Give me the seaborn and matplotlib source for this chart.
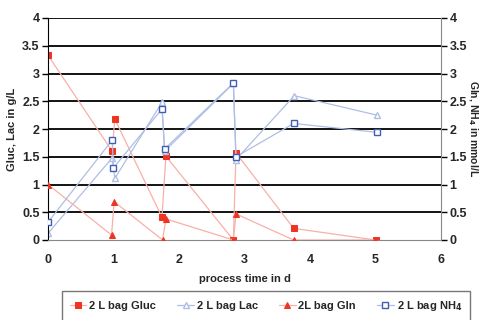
import numpy as np
import pandas as pd
import matplotlib.pyplot as plt
import seaborn as sns

# values
gluc_t = [0, 0.98, 1.02, 1.74, 1.80, 2.83, 2.87, 3.75, 5.0]
gluc = [3.33, 1.60, 2.18, 0.41, 1.51, 0.0, 1.57, 0.21, 0.0]

lac_t = [0, 0.98, 1.02, 1.74, 1.78, 2.83, 2.87, 3.76, 5.02]
lac = [0.12, 1.48, 1.11, 2.48, 1.60, 2.82, 1.45, 2.60, 2.25]

gln_t = [0, 0.97, 1.01, 1.75, 1.80, 2.83, 2.87, 3.75, 5.0]
gln = [1.0, 0.09, 0.69, 0.0, 0.38, 0.0, 0.47, 0.0, 0.0]

nh4_t = [0, 0.98, 1.0, 1.74, 1.78, 2.83, 2.87, 3.75, 5.02]
nh4 = [0.32, 1.80, 1.30, 2.36, 1.64, 2.83, 1.50, 2.10, 1.94]

x_ticks = [0, 1, 2, 3, 4, 5, 6]
y_ticks = [0, 0.5, 1, 1.5, 2, 2.5, 3, 3.5, 4]
y_labels = ['0', '0.5', '1', '1.5', '2', '2.5', '3', '3.5', '4']

sns.set_style('white')
plt.rcParams['font.family'] = ['Liberation Sans', 'DejaVu Sans']
plt.rcParams['font.weight'] = 'bold'

RED = '#ee3524'
RED_LINE = '#f8b0a8'
BLUE = '#3f5fb5'
BLUE_LINE = '#b0bee4'

fig = plt.figure(figsize=(4.79, 3.2), dpi=100)
ax = fig.add_axes([48 / 479, 1 - 240 / 320, 393 / 479, 222 / 320])
ax2 = ax.twinx()

for y in y_ticks[1:]:
    ax.axhline(y, color='black', lw=1.3, zorder=0)

sns.lineplot(x=gluc_t, y=gluc, sort=False, ax=ax, color=RED_LINE, lw=0.9,
             marker='s', markersize=5, markerfacecolor=RED, markeredgecolor=RED,
             label='2 L bag Gluc', legend=False)
sns.lineplot(x=lac_t, y=lac, sort=False, ax=ax, color=BLUE_LINE, lw=0.9,
             marker='^', markersize=5, markerfacecolor='white', markeredgecolor=BLUE_LINE,
             markeredgewidth=1.0, label='2 L bag Lac', legend=False)
sns.lineplot(x=gln_t, y=gln, sort=False, ax=ax2, color=RED_LINE, lw=0.9,
             marker='^', markersize=5, markerfacecolor=RED, markeredgecolor=RED,
             label='2L bag Gln', legend=False)
sns.lineplot(x=nh4_t, y=nh4, sort=False, ax=ax2, color=BLUE_LINE, lw=0.9,
             marker='s', markersize=5, markerfacecolor='white', markeredgecolor=BLUE,
             markeredgewidth=1.0, label='2 L bag NH$_4$', legend=False)

for a in (ax, ax2):
    a.set_xlim(0, 6)
    a.set_ylim(0, 4)
    a.set_yticks(y_ticks)
    a.set_yticklabels(y_labels, fontsize=9, fontweight='bold')
    for s in a.spines.values():
        s.set_visible(False)

ax.set_xticks(x_ticks)
ax.set_xticklabels([str(t) for t in x_ticks], fontsize=9, fontweight='bold')
ax.spines['left'].set_visible(True)
ax.spines['left'].set_color('black')
ax.spines['bottom'].set_visible(True)
ax.spines['bottom'].set_color('#888888')
ax2.spines['right'].set_visible(True)
ax2.spines['right'].set_color('#888888')
ax.tick_params(axis='both', direction='out', length=4, width=1, color='black', pad=2)
ax.tick_params(axis='x', pad=6)
ax2.tick_params(axis='y', direction='out', length=4, width=1, color='black', pad=2)

ax.set_xlabel('process time in d', fontsize=8, fontweight='bold', labelpad=6)
ax.set_ylabel('Gluc, Lac in g/L', fontsize=8, fontweight='bold', va='center', ha='center')
ax.yaxis.set_label_coords((12 - 48) / 393, 0.5)
ax2.set_ylabel('Gln, NH$_4$ in mmol/L', fontsize=7.5, fontweight='bold',
               rotation=270, va='center', ha='center')
ax2.yaxis.set_label_coords((473 - 48) / 393, 0.5)

h1, l1 = ax.get_legend_handles_labels()
h2, l2 = ax2.get_legend_handles_labels()
handles = [h1[0], h1[1], h2[0], h2[1]]
labels = [l1[0], l1[1], l2[0], l2[1]]
leg = fig.legend(handles, labels, loc='upper left', bbox_to_anchor=(62 / 479, 1 - 291 / 320),
                 ncol=4, fontsize=8, frameon=True, fancybox=False, edgecolor='#555555',
                 handlelength=1.5, columnspacing=1.9, borderpad=0.7, handletextpad=0.25,
                 borderaxespad=0)
leg.get_frame().set_linewidth(1.0)
for t in leg.get_texts():
    t.set_fontweight('bold')

fig.savefig('out.png', dpi=100)
